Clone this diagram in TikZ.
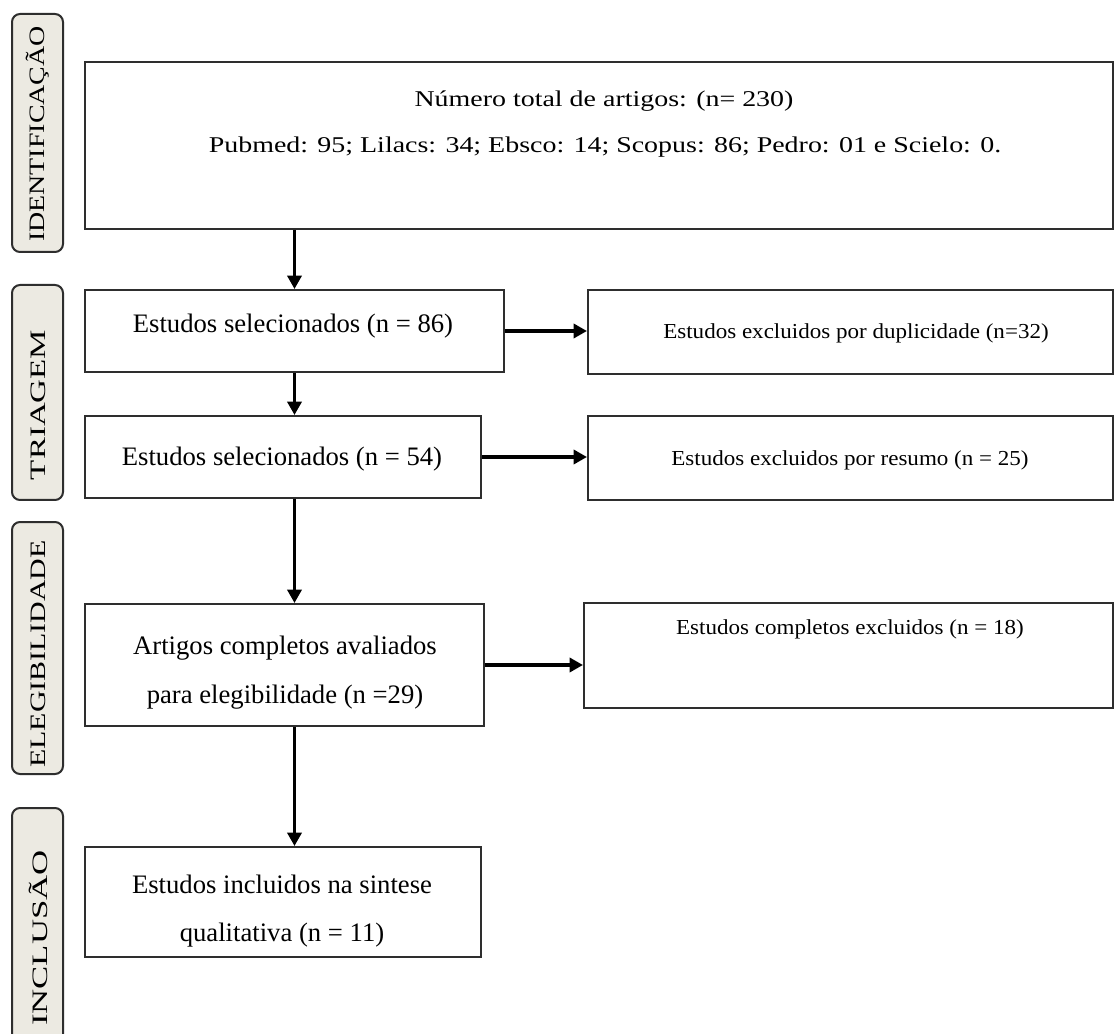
\documentclass[tikz,border=0pt]{standalone}
\usepackage{fontspec}
\setmainfont{Liberation Serif}
\newfontfamily\topfont[FakeStretch=1.24]{Liberation Serif}
\newfontfamily\rfont[FakeStretch=1.08]{Liberation Serif}
\usetikzlibrary{arrows.meta,fit}
\definecolor{lblfill}{HTML}{ECEAE2}
\definecolor{edge}{HTML}{2E2E2E}
\begin{document}
\begin{tikzpicture}[x=0.75pt,y=-0.75pt,
  box/.style={draw=edge,line width=1.5pt,inner sep=0pt},
  side/.style={draw=edge,line width=1.5pt,fill=lblfill,rounded corners=6pt,inner sep=0pt},
  arr/.style={line width=2.6pt,-{Triangle[length=10pt,width=10.5pt]}},
  ttxt/.style={font=\topfont\fontsize{16.9pt}{20pt}\selectfont,anchor=base,inner sep=0pt},
  ltxt/.style={font=\fontsize{20pt}{24pt}\selectfont,anchor=base,inner sep=0pt},
  rtxt/.style={font=\rfont\fontsize{16pt}{19pt}\selectfont,anchor=base,inner sep=0pt},
  stxt/.style={font=\fontsize{16.5pt}{20pt}\selectfont,rotate=90,inner sep=0pt}]
\useasboundingbox (0,0) rectangle (1115,1034);
\clip (0,0) rectangle (1115,1034);
\fill[white] (0,0) rectangle (1115,1034);

% side labels
\node[side,fit={(12,14) (63,252)}] (sid) {};
\node[side,fit={(12,285) (63,500)}] (stri) {};
\node[side,fit={(12,522) (63,774)}] (sele) {};
\node[side,fit={(12,808) (63,1060)}] (sinc) {};
\node[stxt] (tid) at (38,134) {\scalebox{1.27}[1]{IDENTIFICAÇÃO}};
\node[stxt] (ttri) at (38,405) {\scalebox{1.5}[1]{TRIAGEM}};
\node[stxt] (tele) at (38,654) {\scalebox{1.36}[1]{ELEGIBILIDADE}};
\node[stxt] (tinc) at (38,938) {\scalebox{1.58}[1]{INCLUSÃO}};

% boxes
\node[box,fit={(85,62) (1113,229)}] (top) {};
\node[box,fit={(85,290) (504,372)}] (b86) {};
\node[box,fit={(588,290) (1113,374)}] (dup) {};
\node[box,fit={(85,416) (481,498)}] (b54) {};
\node[box,fit={(588,416) (1113,500)}] (res) {};
\node[box,fit={(85,604) (484,726)}] (b29) {};
\node[box,fit={(584,603) (1113,708)}] (b18) {};
\node[box,fit={(85,847) (481,957)}] (b11) {};

% texts
\node[ttxt] (t1) at (604,107) {Número total de artigos: (n= 230)};
\node[ttxt] (t2) at (605,153) {Pubmed: 95; Lilacs: 34; Ebsco: 14; Scopus: 86; Pedro: 01 e Scielo: 0.};
\node[ltxt] (t86) at (293,333) {Estudos selecionados (n = 86)};
\node[ltxt] (t54) at (282,465) {Estudos selecionados (n = 54)};
\node[ltxt] (t29a) at (285,654) {Artigos completos avaliados};
\node[ltxt] (t29b) at (285,703) {para elegibilidade (n =29)};
\node[ltxt] (t11a) at (282,893) {Estudos incluidos na sintese};
\node[ltxt] (t11b) at (282,941) {qualitativa (n = 11)};
\node[rtxt] (tdup) at (856,339) {Estudos excluidos por duplicidade (n=32)};
\node[rtxt] (tres) at (850,465) {Estudos excluidos por resumo (n = 25)};
\node[rtxt] (t18) at (850,634) {Estudos completos excluidos (n = 18)};

% arrows
\draw[arr] (top.south -| b86.north) -- (b86.north);
\draw[arr] (b86.south) -- (b86.south |- b54.north);
\draw[arr] (b54.south -| b86.south) -- (b86.south |- b29.north);
\draw[arr] (b29.south -| b86.south) -- (b86.south |- b11.north);
\draw[arr] (b86.east) -- (b86.east -| dup.west);
\draw[arr] (b54.east) -- (b54.east -| res.west);
\draw[arr] (b29.east) -- (b29.east -| b18.west);
\end{tikzpicture}
\end{document}
